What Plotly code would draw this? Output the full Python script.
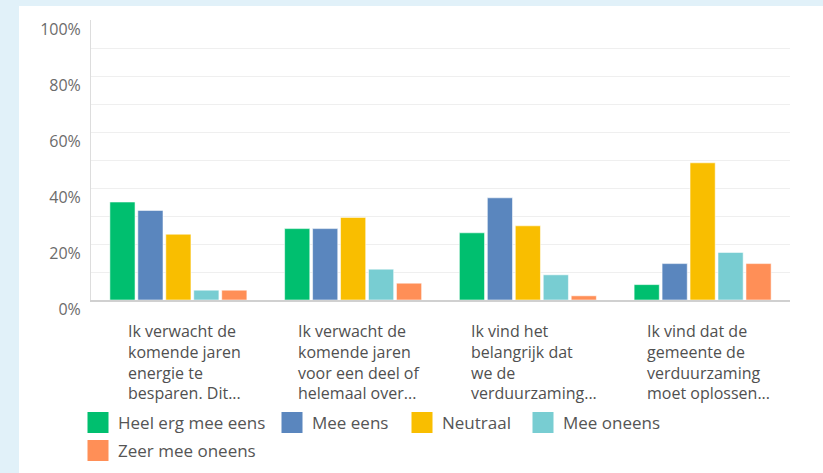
import plotly.graph_objects as go

categories = [
    "Ik verwacht de\nkomende jaren\nenergie te\nbesparen. Dit...",
    "Ik verwacht de\nkomende jaren\nvoor een deel of\nhelemaal over...",
    "Ik vind het\nbelangrijk dat\nwe de\nverduurzaming...",
    "Ik vind dat de\ngemeente de\nverduurzaming\nmoet oplossen...",
]
series_names = ["Heel erg mee eens", "Mee eens", "Neutraal", "Mee oneens", "Zeer mee oneens"]
heel_erg_mee_eens = [35.0, 25.5, 24.0, 5.5]
mee_eens = [32.0, 25.5, 36.5, 13.0]
neutraal = [23.5, 29.5, 26.5, 49.0]
mee_oneens = [3.5, 11.0, 9.0, 17.0]
zeer_mee_oneens = [3.5, 6.0, 1.5, 13.0]
y_tickvals = [0, 20, 40, 60, 80, 100]
y_ticktext = ["0%", "20%", "40%", "60%", "80%", "100%"]

colors = ["#00BF6F", "#5A86BE", "#F9BE00", "#78CDD2", "#FF8F57"]
values = [heel_erg_mee_eens, mee_eens, neutraal, mee_oneens, zeer_mee_oneens]

keys = [f"c{i}" for i in range(len(categories))]

W, H = 823, 473
L, R, T, B = 91, 33, 20, 173
pw, ph = W - L - R, H - T - B

# legend placement (pixel positions of each legend box)
legend_ids = ["legend", "legend2", "legend3", "legend4", "legend5"]
legend_px = [(78, 405), (272, 405), (402, 405), (523, 405), (78, 433)]

fig = go.Figure()
for name, vals, col in zip(series_names, values, colors):
    fig.add_trace(go.Bar(
        x=keys, y=vals, name=name, marker_color=col,
        marker_line=dict(color="rgba(255,255,255,0.55)", width=1),
        showlegend=False, legendgroup=name,
    ))
for name, col, lid in zip(series_names, colors, legend_ids):
    fig.add_trace(go.Scatter(
        x=[None], y=[None], mode="markers", name=name, legendgroup=name, legend=lid,
        marker=dict(symbol="square", size=16, color=col, line=dict(color=col, width=5)),
    ))

for k, lab in zip(keys, categories):
    fig.add_annotation(
        x=k, y=0, xref="x", yref="y", text=lab.replace("\n", "<br>"),
        showarrow=False, xanchor="center", yanchor="top", align="left",
        xshift=6, yshift=-18,
        font=dict(family="Open Sans", size=16, color="#505050"),
    )

fig.add_shape(
    type="rect", xref="paper", yref="paper", layer="below",
    x0=(19 - L) / pw, x1=(W - L + 5) / pw,
    y0=-(H - T - ph + 5) / ph, y1=(ph + T - 6) / ph,
    fillcolor="white", line_width=0,
)

legend_layouts = {}
for lid, (lx, ly) in zip(legend_ids, legend_px):
    legend_layouts[lid] = dict(
        orientation="h", x=(lx - L) / pw, xanchor="left",
        y=-(ly - (T + ph)) / ph, yanchor="top",
        font=dict(family="Open Sans", size=17, color="#555555"),
        itemsizing="trace", bgcolor="rgba(0,0,0,0)", borderwidth=0,
    )

fig.update_layout(
    width=W, height=H,
    margin=dict(l=L, r=R, t=T, b=B, pad=0, autoexpand=False),
    paper_bgcolor="#E1F1F9", plot_bgcolor="white",
    barmode="group", bargap=0.2, bargroupgap=0.1,
    font=dict(family="Open Sans", color="#555555"),
    showlegend=True,
    xaxis=dict(
        showticklabels=False, showgrid=False, zeroline=False, automargin=False,
        showline=True, linecolor="#D0D0D0", linewidth=2, ticks="",
    ),
    yaxis=dict(
        range=[0, 100], tickmode="array", tickvals=y_tickvals, ticktext=y_ticktext,
        showgrid=False, zeroline=False, showline=True, linecolor="#DDDDDD", linewidth=1,
        automargin=False,
        ticks="", ticklabelstandoff=6, ticklabelshift=9,
        tickfont=dict(family="Open Sans", size=16, color="#6B6B6B"),
        minor=dict(tickmode="array", tickvals=[10, 20, 30, 40, 50, 60, 70, 80, 90],
                   showgrid=True, gridcolor="#EFEFEF", gridwidth=1, ticks=""),
    ),
    **legend_layouts,
)

fig.write_html(
    "out.html",
    config={"displayModeBar": False},
    post_script="document.body.style.margin='0';document.body.style.overflow='hidden';",
)
